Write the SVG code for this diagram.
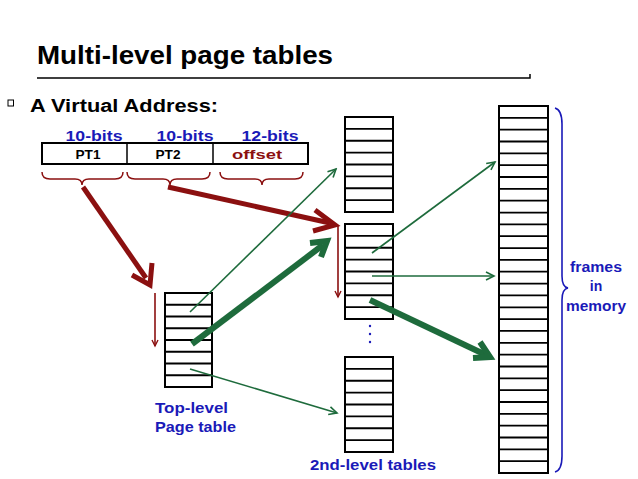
<svg xmlns="http://www.w3.org/2000/svg" width="638" height="479" viewBox="0 0 638 479">
<style>
  .tbl { fill: #fff; stroke: #000; stroke-width: 2; }
  .rows { fill: none; stroke: #000; stroke-width: 1.8; }
  .blue { fill: #1a1ab8; font-family: "Liberation Sans", Arial, sans-serif; font-weight: bold; }
  .blk { fill: #000; font-family: "Liberation Sans", Arial, sans-serif; font-weight: bold; }
  .thinG { fill: none; stroke: #1e6b3c; stroke-width: 1.6; }
  .thickG { fill: none; stroke: #1e6b3c; stroke-width: 6; stroke-linejoin: miter; }
  .thickR { fill: none; stroke: #8b1010; stroke-width: 5; }
  .thinR { fill: none; stroke: #8b1010; stroke-width: 1.6; }
  .brace { fill: none; stroke: #8b1010; stroke-width: 1.5; }
</style>
<defs>
  <marker id="gHead" markerUnits="userSpaceOnUse" markerWidth="12" markerHeight="12" refX="0" refY="0" viewBox="-10 -6 12 12" orient="auto">
    <path d="M-8,-4 L0,0 L-8,4" fill="none" stroke="#1e6b3c" stroke-width="1.6"/>
  </marker>
  <marker id="rHead" markerUnits="userSpaceOnUse" markerWidth="10" markerHeight="10" refX="0" refY="0" viewBox="-8 -5 10 10" orient="auto">
    <path d="M-6,-3 L0,0 L-6,3" fill="none" stroke="#8b1010" stroke-width="1.4"/>
  </marker>
</defs>
<rect width="638" height="479" fill="#fff"/>

<g id="title">
  <text class="blk" x="37" y="64" font-size="26" textLength="296" lengthAdjust="spacingAndGlyphs">Multi-level page tables</text>
  <path d="M37,78 L530,78 L530,74" fill="none" stroke="#000" stroke-width="1.5"/>
</g>

<g id="bullet">
  <rect x="8" y="100" width="5.5" height="6" fill="none" stroke="#000" stroke-width="1"/>
  <text class="blk" x="30" y="112" font-size="18" textLength="188" lengthAdjust="spacingAndGlyphs">A Virtual Address:</text>
</g>

<g id="virtual-address">
  <rect x="42" y="143" width="266" height="21" fill="#fff" stroke="#000" stroke-width="2"/>
  <line x1="127" y1="143" x2="127" y2="164" stroke="#000" stroke-width="1.5"/>
  <line x1="213" y1="143" x2="213" y2="164" stroke="#000" stroke-width="1.5"/>
  <text class="blue" x="94" y="141" font-size="15" text-anchor="middle" textLength="57" lengthAdjust="spacingAndGlyphs">10-bits</text>
  <text class="blue" x="185" y="141" font-size="15" text-anchor="middle" textLength="57" lengthAdjust="spacingAndGlyphs">10-bits</text>
  <text class="blue" x="270" y="141" font-size="15" text-anchor="middle" textLength="57" lengthAdjust="spacingAndGlyphs">12-bits</text>
  <text class="blk" x="88" y="159" font-size="13" text-anchor="middle" textLength="25" lengthAdjust="spacingAndGlyphs">PT1</text>
  <text class="blk" x="168" y="159" font-size="13" text-anchor="middle" textLength="25" lengthAdjust="spacingAndGlyphs">PT2</text>
  <text x="257" y="159" font-size="13" text-anchor="middle" textLength="50" lengthAdjust="spacingAndGlyphs" font-family="Liberation Sans, Arial, sans-serif" font-weight="bold" fill="#8b1010">offset</text>
  <path class="brace" d="M42,172 Q42,179 50,179 L75,179 Q82,179 82,185 Q82,179 89,179 L115,179 Q123,179 123,172"/>
  <path class="brace" d="M127,172 Q127,179 135,179 L163,179 Q170,179 170,185 Q170,179 177,179 L202,179 Q210,179 210,172"/>
  <path class="brace" d="M220,172 Q220,179 228,179 L255,179 Q262,179 262,185 Q262,179 269,179 L295,179 Q303,179 303,172"/>
</g>

<g id="top-level-table">
  <rect class="tbl" x="165" y="293" width="47" height="94"/>
  <path class="rows" d="M165,304.75H212M165,316.5H212M165,328.25H212M165,340H212M165,351.75H212M165,363.5H212M165,375.25H212"/>
  <text class="blue" x="155" y="413" font-size="15" textLength="73" lengthAdjust="spacingAndGlyphs">Top-level</text>
  <text class="blue" x="155" y="432" font-size="15" textLength="81" lengthAdjust="spacingAndGlyphs">Page table</text>
</g>

<g id="second-level-upper">
  <rect class="tbl" x="345" y="117" width="48" height="95"/>
  <path class="rows" d="M345,128.9H393M345,140.75H393M345,152.6H393M345,164.5H393M345,176.4H393M345,188.25H393M345,200.1H393"/>
</g>

<g id="second-level-middle">
  <rect class="tbl" x="345" y="224" width="48" height="95"/>
  <path class="rows" d="M345,235.9H393M345,247.75H393M345,259.6H393M345,271.5H393M345,283.4H393M345,295.25H393M345,307.1H393"/>
  <circle cx="370" cy="326" r="1.2" fill="#1a1ab8"/>
  <circle cx="370" cy="334" r="1.2" fill="#1a1ab8"/>
  <circle cx="370" cy="342" r="1.2" fill="#1a1ab8"/>
</g>

<g id="second-level-lower">
  <rect class="tbl" x="345" y="357" width="48" height="95"/>
  <path class="rows" d="M345,368.9H393M345,380.75H393M345,392.6H393M345,404.5H393M345,416.4H393M345,428.25H393M345,440.1H393"/>
  <text class="blue" x="310" y="470" font-size="15" textLength="126" lengthAdjust="spacingAndGlyphs">2nd-level tables</text>
</g>

<g id="memory">
  <rect class="tbl" x="499" y="106" width="49" height="367"/>
  <path class="rows" d="M499,117.8H548M499,129.7H548M499,141.5H548M499,153.4H548M499,165.2H548M499,177H548M499,188.9H548M499,200.7H548M499,212.6H548M499,224.4H548M499,236.2H548M499,248.1H548M499,259.9H548M499,271.7H548M499,283.6H548M499,295.4H548M499,307.3H548M499,319.1H548M499,330.9H548M499,342.8H548M499,354.6H548M499,366.5H548M499,378.3H548M499,390.1H548M499,402H548M499,413.8H548M499,425.7H548M499,437.5H548M499,449.3H548M499,461.2H548"/>
  <path d="M555,108 Q562,110 562,124 L562,276 Q562,287 568,288 Q562,289 562,300 L562,456 Q562,470 555,472" fill="none" stroke="#1a1ab8" stroke-width="1.6"/>
  <text class="blue" x="596" y="272" font-size="14" text-anchor="middle" textLength="52" lengthAdjust="spacingAndGlyphs">frames</text>
  <text class="blue" x="596" y="291" font-size="14" text-anchor="middle">in</text>
  <text class="blue" x="596" y="311" font-size="14" text-anchor="middle" textLength="60" lengthAdjust="spacingAndGlyphs">memory</text>
</g>

<g id="connectors">
  <line class="thickR" x1="83" y1="187" x2="146" y2="278"/>
  <polyline class="thickR" points="152,263 150,285 132,275"/>
  <line class="thickR" x1="168" y1="187" x2="330" y2="223"/>
  <polyline class="thickR" points="315,210 335,225 313,231"/>
  <line class="thinR" x1="155" y1="293" x2="155" y2="346" marker-end="url(#rHead)"/>
  <line class="thinR" x1="338" y1="226" x2="338" y2="297" marker-end="url(#rHead)"/>
  <line class="thinG" x1="190" y1="312" x2="336" y2="169" marker-end="url(#gHead)"/>
  <line class="thinG" x1="190" y1="369" x2="337" y2="413" marker-end="url(#gHead)"/>
  <line class="thinG" x1="372" y1="253" x2="495" y2="162" marker-end="url(#gHead)"/>
  <line class="thinG" x1="372" y1="276" x2="494" y2="276" marker-end="url(#gHead)"/>
  <line class="thickG" x1="192" y1="344" x2="323" y2="245"/>
  <polyline class="thickG" points="310,243 327,241 321,257"/>
  <line class="thickG" x1="370" y1="300" x2="486" y2="355"/>
  <polyline class="thickG" points="480,342 490,357 473,358"/>
</g>
</svg>
